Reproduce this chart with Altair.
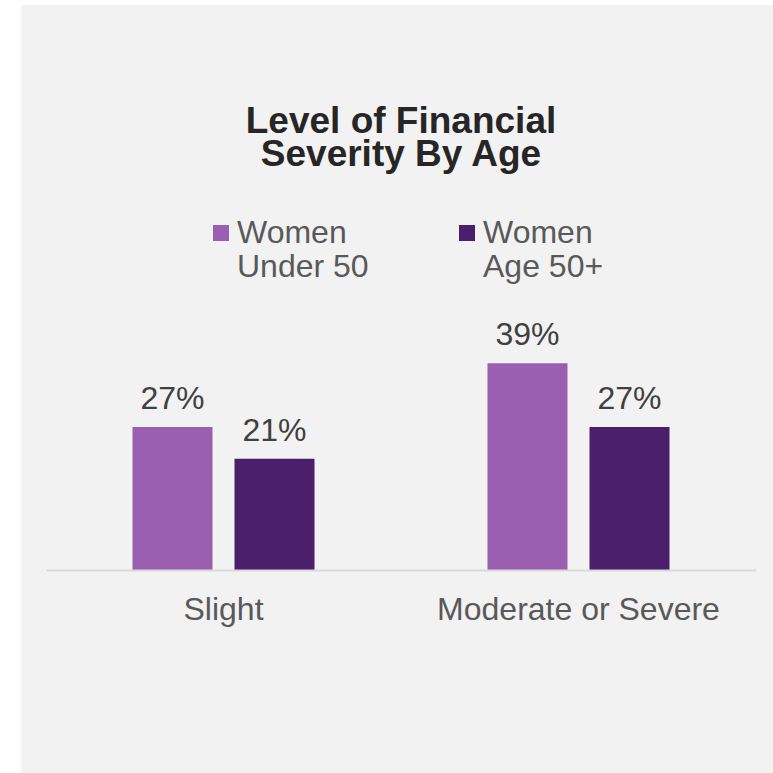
import altair as alt
import pandas as pd

# ---- data ----
categories = ["Slight", "Slight", "Moderate or Severe", "Moderate or Severe"]
series = ["Women Under 50", "Women Age 50+", "Women Under 50", "Women Age 50+"]
values = [27, 21, 39, 27]
category_order = ["Slight", "Moderate or Severe"]
series_order = ["Women Under 50", "Women Age 50+"]
colors = ["#9B5FB1", "#4B1F6C"]
title_lines = ["Level of Financial", "Severity By Age"]

df = pd.DataFrame({"category": categories, "series": series, "value": values})

FONT = "Liberation Sans"
W, H = 710, 265
PAD_L, PAD_T = 46, 305
PAD_R = 773 - PAD_L - W
PAD_B = 773 - PAD_T - H

# gray panel behind the chart (page area from x=21, y=5)
panel = alt.Chart(pd.DataFrame({"k": [0]})).mark_rect(color="#f2f2f2").encode(
    x=alt.value(21 - PAD_L), x2=alt.value(773 - PAD_L),
    y=alt.value(5 - PAD_T), y2=alt.value(773 - PAD_T),
)

base = alt.Chart(df).encode(
    x=alt.X(
        "category:N", sort=category_order,
        scale=alt.Scale(paddingInner=0, paddingOuter=0),
        axis=alt.Axis(
            title=None, labelAngle=0, ticks=False, tickSize=0, grid=False,
            domainColor="#d9d9d9", domainWidth=2,
            labelFont=FONT, labelFontSize=32, labelColor="#595959",
            labelBaseline="alphabetic", labelPadding=49, labelLimit=0,
            zindex=1,
        ),
    ),
    xOffset=alt.XOffset("series:N", sort=series_order,
                        scale=alt.Scale(paddingInner=0.2157, paddingOuter=0.848)),
    y=alt.Y("value:Q", scale=alt.Scale(domain=[0, 50]), axis=None),
)

bars = base.mark_bar().encode(
    color=alt.Color(
        "series:N", sort=series_order,
        scale=alt.Scale(domain=series_order, range=colors),
        legend=alt.Legend(
            title=None, orient="none", legendX=159, legendY=-88,
            direction="horizontal", columnPadding=82,
            symbolType="square", symbolSize=256,
            symbolStrokeWidth=0, symbolOpacity=1,
            labelFont=FONT, labelFontSize=32, labelColor="#595959",
            labelOffset=0, labelLimit=0,
            labelExpr="[slice(datum.label, 0, 5), slice(datum.label, 6)]",
        ),
    )
)

labels = base.transform_calculate(label="datum.value + '%'").mark_text(
    font=FONT, fontSize=32, color="#404040", baseline="alphabetic", dy=-18
).encode(text="label:N")

chart = alt.layer(panel, bars, labels).properties(
    width=W, height=H,
    title=alt.TitleParams(
        text=title_lines, font=FONT, fontSize=37, fontWeight="bold",
        color="#262626", anchor="middle", baseline="alphabetic",
        lineHeight=33, offset=-198,
    ),
    autosize=alt.AutoSizeParams(type="none"),
    padding={"left": PAD_L, "top": PAD_T, "right": PAD_R, "bottom": PAD_B},
    background="#ffffff",
).configure_view(stroke=None)

chart.save("out.html", embed_options={"renderer": "svg", "actions": False})
